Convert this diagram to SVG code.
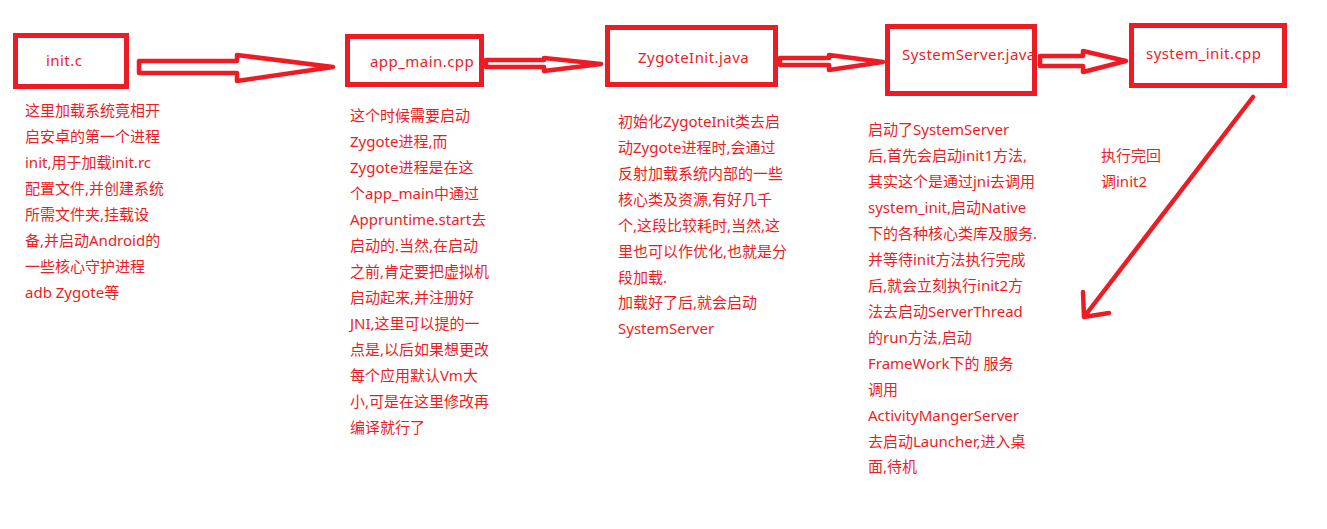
<svg xmlns="http://www.w3.org/2000/svg" width="1327" height="529" viewBox="0 0 1327 529">
<style>
.box{fill:none;stroke:#ED1C24;stroke-width:5}
.arr{fill:#fff;stroke:#ED1C24;stroke-width:4.5;stroke-linejoin:round}
.ln{fill:none;stroke:#ED1C24;stroke-width:4.5;stroke-linecap:round;stroke-linejoin:round}
text{font-family:"Noto Sans","Noto Sans CJK SC",sans-serif;font-size:15px;fill:#ED1C24}
.lbl{letter-spacing:0.45px}
</style>
<rect width="1327" height="529" fill="#fff"/>
<g id="connectors">
<polygon class="arr" points="139,61 237,61 237,55 333,67 237,81 237,73 139,73"/>
<polygon class="arr" points="486,60 544,60 544,58 601,64 544,71 544,67 486,67"/>
<polygon class="arr" points="780,58 829,58 829,55 883,62 829,70 829,65 780,65"/>
<polygon class="arr" points="1040,56 1083,56 1083,51 1126,61 1083,72 1083,66 1040,66"/>
<path class="ln" d="M1253,97 L1084,317 M1083,292 L1084,317 L1109,313"/>
</g>
<g id="init_c">
<rect class="box" x="15.5" y="35.5" width="111" height="51"/>
<text class="lbl" x="46" y="66">init.c</text>
</g>
<g id="app_main">
<rect class="box" x="347.5" y="36.5" width="134" height="48"/>
<text class="lbl" x="370" y="67">app_main.cpp</text>
</g>
<g id="zygoteinit">
<rect class="box" x="607.5" y="27.5" width="168" height="57"/>
<text class="lbl" x="638" y="63">ZygoteInit.java</text>
</g>
<g id="systemserver">
<rect class="box" x="887.5" y="26.5" width="147" height="67"/>
<text class="lbl" x="902" y="60">SystemServer.java</text>
</g>
<g id="system_init">
<rect class="box" x="1131.5" y="25.5" width="153" height="60"/>
<text class="lbl" x="1146" y="59">system_init.cpp</text>
</g>
<g id="desc_init">
<text x="25" y="116">这里加载系统竟相开</text>
<text x="25" y="142">启安卓的第一个进程</text>
<text x="25" y="168">init,用于加载init.rc</text>
<text x="25" y="194">配置文件,并创建系统</text>
<text x="25" y="220">所需文件夹,挂载设</text>
<text x="25" y="246">备,并启动Android的</text>
<text x="25" y="272">一些核心守护进程</text>
<text x="25" y="298">adb Zygote等</text>
</g>
<g id="desc_app_main">
<text x="350" y="121">这个时候需要启动</text>
<text x="350" y="147">Zygote进程,而</text>
<text x="350" y="173">Zygote进程是在这</text>
<text x="350" y="199">个app_main中通过</text>
<text x="350" y="225">Appruntime.start去</text>
<text x="350" y="251">启动的.当然,在启动</text>
<text x="350" y="277">之前,肯定要把虚拟机</text>
<text x="350" y="303">启动起来,并注册好</text>
<text x="350" y="329">JNI,这里可以提的一</text>
<text x="350" y="355">点是,以后如果想更改</text>
<text x="350" y="381">每个应用默认Vm大</text>
<text x="350" y="407">小,可是在这里修改再</text>
<text x="350" y="433">编译就行了</text>
</g>
<g id="desc_zygote">
<text x="618" y="127">初始化ZygoteInit类去启</text>
<text x="618" y="153">动Zygote进程时,会通过</text>
<text x="618" y="179">反射加载系统内部的一些</text>
<text x="618" y="205">核心类及资源,有好几千</text>
<text x="618" y="231">个,这段比较耗时,当然,这</text>
<text x="618" y="257">里也可以作优化,也就是分</text>
<text x="618" y="283">段加载.</text>
<text x="618" y="308">加载好了后,就会启动</text>
<text x="618" y="334">SystemServer</text>
</g>
<g id="desc_systemserver">
<text x="868" y="135">启动了SystemServer</text>
<text x="868" y="161">后,首先会启动init1方法,</text>
<text x="868" y="187">其实这个是通过jni去调用</text>
<text x="868" y="213">system_init,启动Native</text>
<text x="868" y="239">下的各种核心类库及服务.</text>
<text x="868" y="265">并等待init方法执行完成</text>
<text x="868" y="291">后,就会立刻执行init2方</text>
<text x="868" y="317">法去启动ServerThread</text>
<text x="868" y="343">的run方法,启动</text>
<text x="868" y="369">FrameWork下的 服务</text>
<text x="868" y="395">调用</text>
<text x="868" y="421">ActivityMangerServer</text>
<text x="868" y="447">去启动Launcher,进入桌</text>
<text x="868" y="472">面,待机</text>
</g>
<g id="desc_system_init">
<text x="1101" y="161">执行完回</text>
<text x="1101" y="187">调init2</text>
</g>
</svg>
